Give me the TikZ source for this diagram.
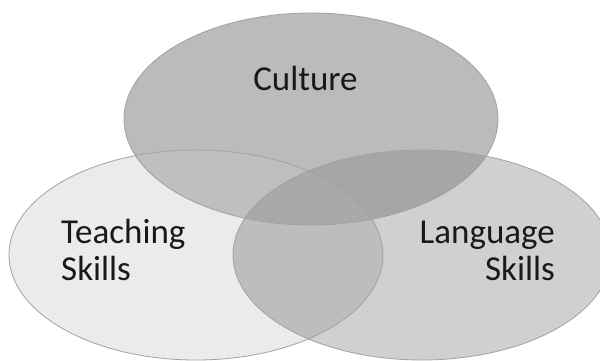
\documentclass[tikz,border=0pt]{standalone}
\usepackage{fontspec}
\setmainfont{Carlito}
\usepackage{tikz}

\definecolor{cultgray}{HTML}{BBBBBB}
\definecolor{teachgray}{HTML}{EBEBEB}
\definecolor{langgray}{HTML}{D0D0D0}
\definecolor{ctgray}{HTML}{BFBFBF}
\definecolor{clgray}{HTML}{A6A6A6}
\definecolor{tlgray}{HTML}{BDBDBD}
\definecolor{allgray}{HTML}{A9A9A9}
\definecolor{rimgray}{HTML}{A2A2A2}

% the three sets
\def\culturepath{(311,119) ellipse [x radius=187pt, y radius=106pt]}
\def\teachingpath{(196,255) ellipse [x radius=187pt, y radius=105pt]}
\def\languagepath{(422,255) ellipse [x radius=189pt, y radius=105pt]}

\begin{document}
\begin{tikzpicture}[x=1pt, y=-1pt,
		rim/.style={draw=rimgray, line width=0.8pt},
		setlabel/.style={inner sep=0pt, text=black!90, font=\fontsize{35}{37}\selectfont}]
			\clip (0,0) rectangle (600,361);
			\fill[white] (0,0) rectangle (600,361);
			% plain fills
			\fill[teachgray] \teachingpath;
			\fill[langgray] \languagepath;
			\fill[cultgray] \culturepath;
			% overlaps
			\begin{scope}
				\clip \teachingpath;
				\fill[tlgray] \languagepath;
				\fill[ctgray] \culturepath;
			\end{scope}
			\begin{scope}
				\clip \languagepath;
				\fill[clgray] \culturepath;
				\clip \teachingpath;
				\fill[allgray] \culturepath;
			\end{scope}
			% outlines on top
			\draw[rim] \teachingpath;
			\draw[rim] \languagepath;
			\draw[rim] \culturepath;
			% labels (base is the last line)
			\node[setlabel, anchor=base] (culture) at (305.5,91) {Culture};
			\node[setlabel, anchor=base west, align=left] (teaching) at (61,280) {Teaching\\Skills};
			\node[setlabel, anchor=base east, align=right] (language) at (555,280) {Language\\Skills};
		\end{tikzpicture}
\end{document}
